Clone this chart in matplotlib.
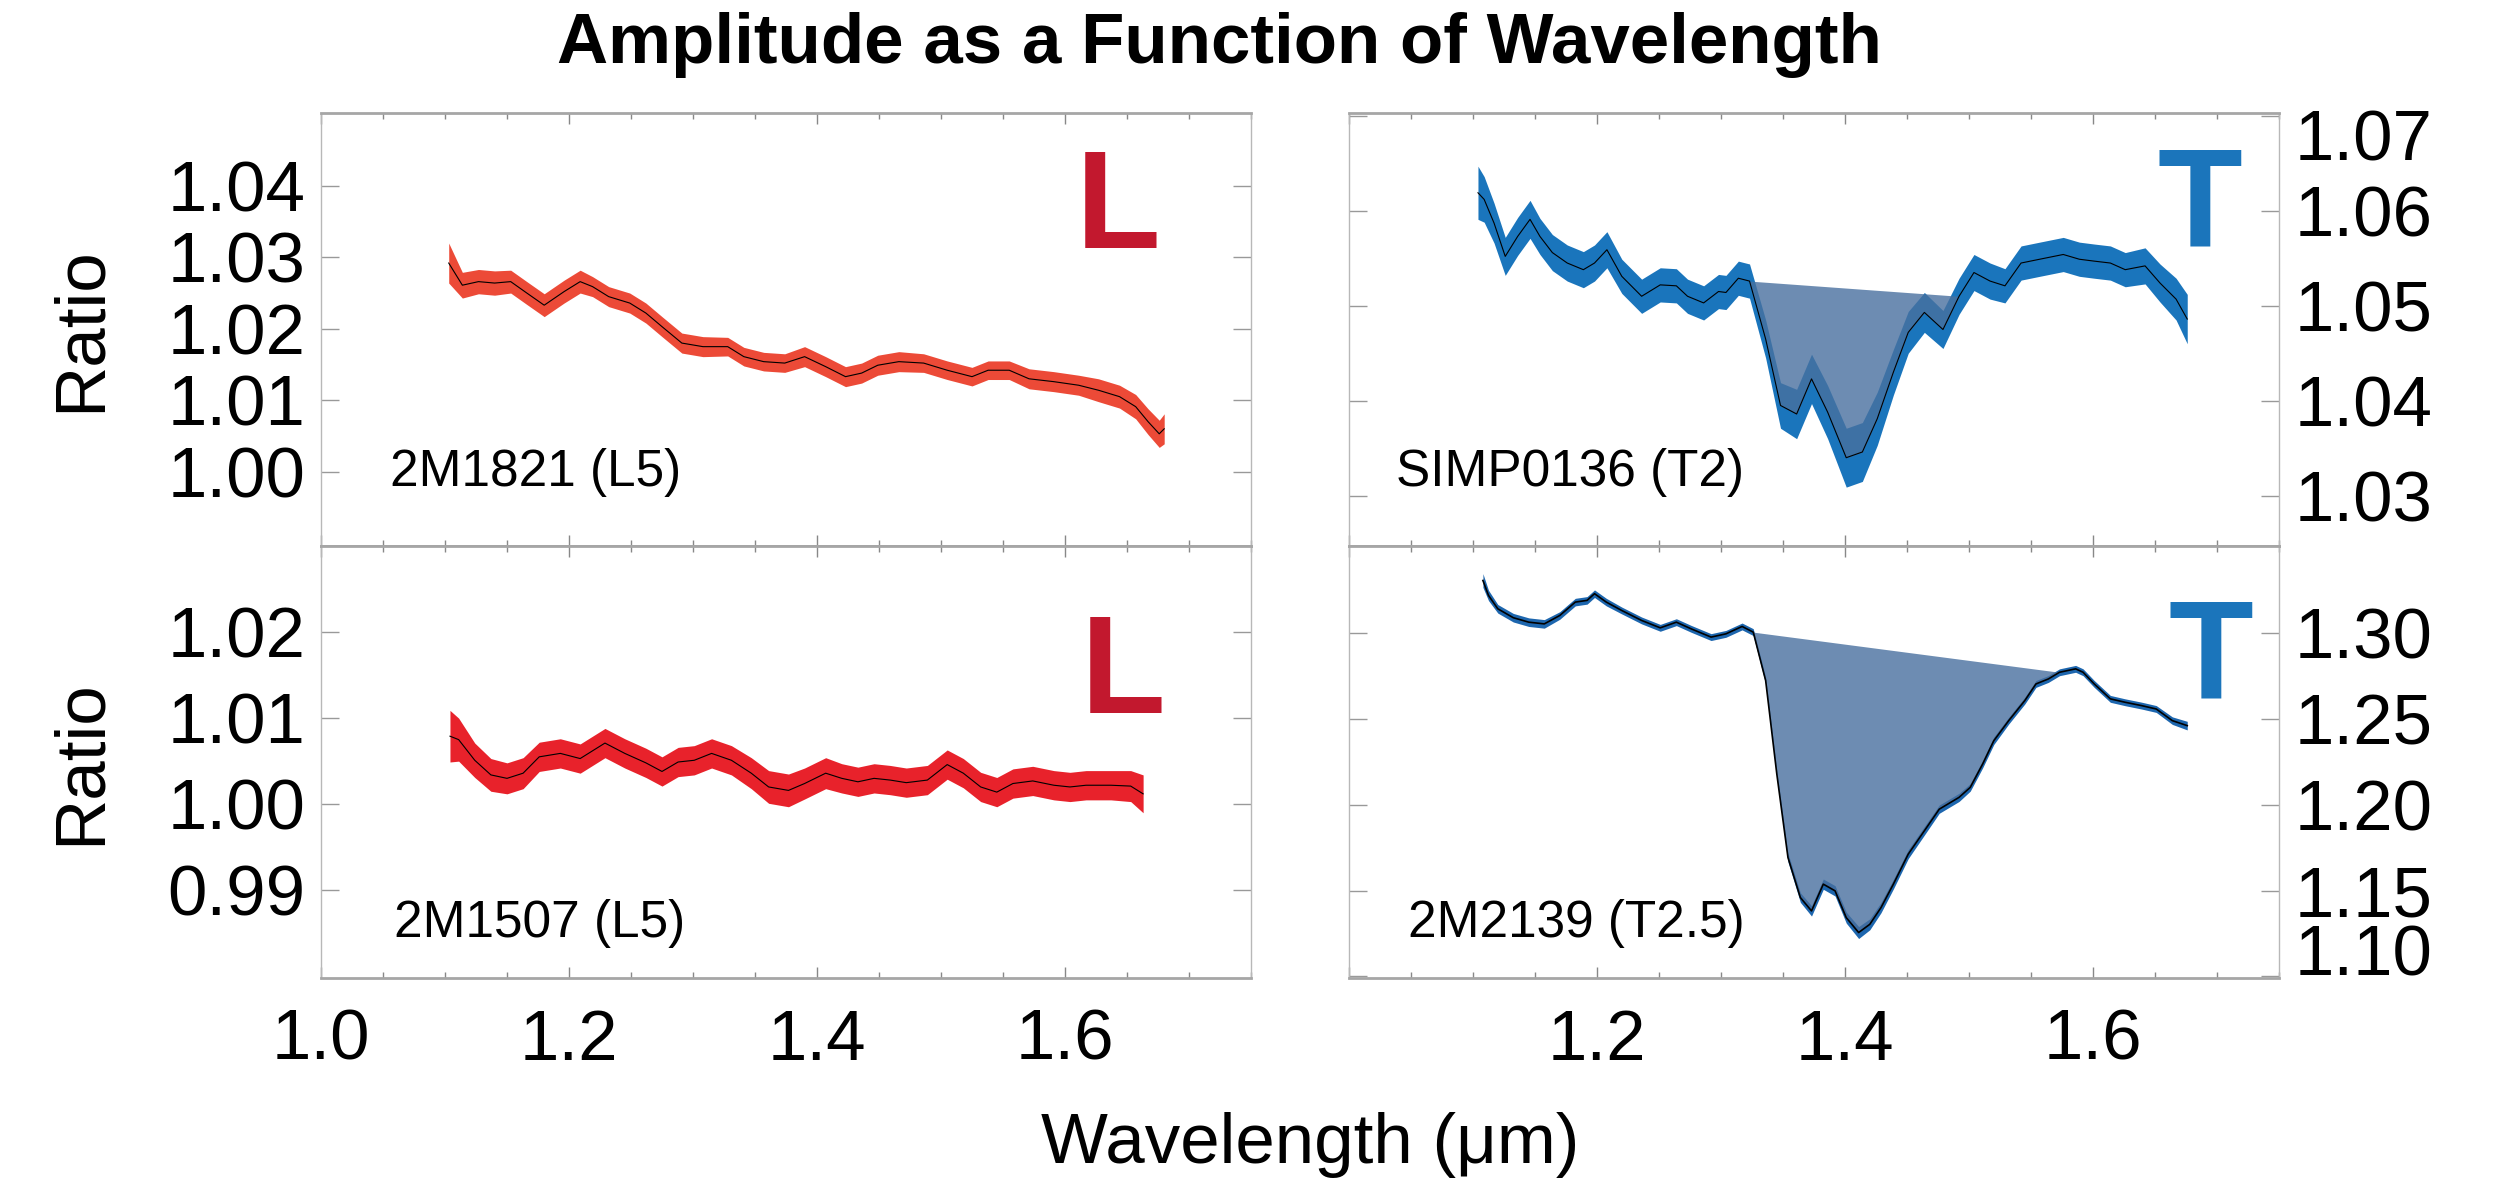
import numpy as np
import matplotlib
matplotlib.use('Agg')
import matplotlib.pyplot as plt
from matplotlib.ticker import MultipleLocator, FixedLocator
from matplotlib.transforms import ScaledTranslation

plt.rcParams['font.family'] = ['Liberation Sans', 'DejaVu Sans']

# 2M1821 (L5) - top left
tl_x = [1.103, 1.114, 1.127, 1.140, 1.153, 1.166, 1.180, 1.196, 1.209, 1.219,
        1.232, 1.249, 1.262, 1.275, 1.291, 1.308, 1.328, 1.341, 1.357, 1.374,
        1.390, 1.407, 1.423, 1.436, 1.449, 1.466, 1.486, 1.505, 1.525, 1.538,
        1.555, 1.571, 1.591, 1.611, 1.627, 1.644, 1.657, 1.667, 1.676, 1.680]
tl_y = [1.0292, 1.0261, 1.0266, 1.0264, 1.0266, 1.0250, 1.0233, 1.0252, 1.0266, 1.0259,
        1.0245, 1.0236, 1.0222, 1.0203, 1.0180, 1.0175, 1.0175, 1.0161, 1.0154, 1.0152,
        1.0161, 1.0147, 1.0133, 1.0138, 1.0149, 1.0154, 1.0152, 1.0142, 1.0133, 1.0142,
        1.0142, 1.0130, 1.0126, 1.0121, 1.0114, 1.0105, 1.0091, 1.0070, 1.0053, 1.0060]
tl_err = [0.0028, 0.0018, 0.0017, 0.0017, 0.0016, 0.0016, 0.0016, 0.0016, 0.0016, 0.0014,
          0.0014, 0.0014, 0.0014, 0.0014, 0.0014, 0.0014, 0.0013, 0.0013, 0.0013, 0.0013,
          0.0014, 0.0014, 0.0014, 0.0014, 0.0014, 0.0014, 0.0013, 0.0013, 0.0013, 0.0013,
          0.0013, 0.0014, 0.0014, 0.0014, 0.0016, 0.0016, 0.0017, 0.0018, 0.0019, 0.0021]

# 2M1507 (L5) - bottom left
bl_x = [1.104, 1.111, 1.124, 1.137, 1.150, 1.163, 1.176, 1.193, 1.209, 1.229,
        1.245, 1.262, 1.275, 1.288, 1.301, 1.315, 1.331, 1.347, 1.361, 1.377,
        1.390, 1.407, 1.420, 1.433, 1.446, 1.459, 1.472, 1.489, 1.505, 1.518,
        1.532, 1.545, 1.558, 1.574, 1.591, 1.604, 1.617, 1.637, 1.653, 1.663]
bl_y = [1.0079, 1.0075, 1.0051, 1.0034, 1.0030, 1.0036, 1.0055, 1.0059, 1.0053, 1.0071,
        1.0059, 1.0048, 1.0038, 1.0049, 1.0051, 1.0059, 1.0051, 1.0036, 1.0020, 1.0016,
        1.0024, 1.0036, 1.0030, 1.0026, 1.0030, 1.0028, 1.0025, 1.0028, 1.0046, 1.0036,
        1.0020, 1.0014, 1.0024, 1.0027, 1.0022, 1.0020, 1.0022, 1.0022, 1.0021, 1.0012]
bl_err = [0.0030, 0.0025, 0.0020, 0.0019, 0.0018, 0.0018, 0.0017, 0.0017, 0.0017, 0.0017,
          0.0017, 0.0017, 0.0017, 0.0017, 0.0017, 0.0017, 0.0017, 0.0018, 0.0019, 0.0019,
          0.0018, 0.0018, 0.0017, 0.0017, 0.0017, 0.0017, 0.0017, 0.0017, 0.0017, 0.0017,
          0.0017, 0.0017, 0.0017, 0.0017, 0.0017, 0.0017, 0.0017, 0.0017, 0.0018, 0.0022]

# SIMP0136 (T2) - top right
tr_x = [1.104, 1.109, 1.117, 1.126, 1.136, 1.146, 1.154, 1.164, 1.176, 1.189,
        1.198, 1.208, 1.220, 1.236, 1.251, 1.264, 1.273, 1.286, 1.298, 1.304,
        1.314, 1.323, 1.336, 1.348, 1.361, 1.373, 1.386, 1.401, 1.414, 1.426,
        1.439, 1.451, 1.464, 1.479, 1.492, 1.504, 1.517, 1.529, 1.542, 1.557,
        1.576, 1.589, 1.601, 1.614, 1.626, 1.642, 1.654, 1.667, 1.676]
tr_y = [1.0619, 1.0612, 1.0587, 1.0552, 1.0573, 1.0591, 1.0573, 1.0556, 1.0545, 1.0538,
        1.0545, 1.0559, 1.0531, 1.0510, 1.0522, 1.0521, 1.0510, 1.0503, 1.0515, 1.0514,
        1.0529, 1.0526, 1.0465, 1.0395, 1.0386, 1.0423, 1.0388, 1.0340, 1.0346, 1.0381,
        1.0430, 1.0472, 1.0493, 1.0475, 1.0510, 1.0535, 1.0526, 1.0521, 1.0545, 1.0549,
        1.0554, 1.0549, 1.0547, 1.0545, 1.0538, 1.0542, 1.0524, 1.0507, 1.0486]
tr_err = [0.0028, 0.0024, 0.0021, 0.0020, 0.0020, 0.0020, 0.0019, 0.0019, 0.0019, 0.0019,
          0.0019, 0.0019, 0.0018, 0.0018, 0.0018, 0.0018, 0.0018, 0.0018, 0.0018, 0.0018,
          0.0018, 0.0018, 0.0020, 0.0024, 0.0026, 0.0026, 0.0028, 0.0031, 0.0031, 0.0028,
          0.0024, 0.0022, 0.0021, 0.0020, 0.0019, 0.0019, 0.0019, 0.0018, 0.0018, 0.0018,
          0.0018, 0.0018, 0.0018, 0.0018, 0.0018, 0.0019, 0.0020, 0.0022, 0.0026]
tr_band = (1.323, 1.492)

# 2M2139 (T2.5) - bottom right
br_x = [1.108, 1.1125, 1.120, 1.1325, 1.145, 1.1575, 1.170, 1.1825, 1.192, 1.198,
        1.2075, 1.220, 1.236, 1.251, 1.264, 1.276, 1.292, 1.304, 1.317, 1.326,
        1.336, 1.345, 1.354, 1.364, 1.373, 1.3825, 1.392, 1.401, 1.411, 1.420,
        1.429, 1.439, 1.451, 1.464, 1.476, 1.492, 1.501, 1.511, 1.520, 1.532,
        1.545, 1.554, 1.564, 1.573, 1.586, 1.592, 1.601, 1.614, 1.626, 1.639,
        1.651, 1.664, 1.676]
br_y = [1.3307, 1.3220, 1.3142, 1.3090, 1.3064, 1.3054, 1.3103, 1.3181, 1.3191, 1.3230,
        1.3181, 1.3132, 1.3074, 1.3031, 1.3064, 1.3025, 1.2977, 1.2996, 1.3039, 1.3006,
        1.2724, 1.2179, 1.1692, 1.1459, 1.1381, 1.1537, 1.1498, 1.1342, 1.1255, 1.1303,
        1.1400, 1.1537, 1.1712, 1.1848, 1.1974, 1.2043, 1.2101, 1.2237, 1.2373, 1.2490,
        1.2607, 1.2704, 1.2733, 1.2772, 1.2792, 1.2772, 1.2704, 1.2617, 1.2597, 1.2578,
        1.2558, 1.2490, 1.2461]
br_err = [0.0040, 0.0030, 0.0025, 0.0025, 0.0025, 0.0025, 0.0022, 0.0022, 0.0022, 0.0022,
          0.0022, 0.0020, 0.0020, 0.0020, 0.0020, 0.0020, 0.0020, 0.0020, 0.0020, 0.0020,
          0.0020, 0.0022, 0.0025, 0.0028, 0.0030, 0.0030, 0.0030, 0.0032, 0.0035, 0.0032,
          0.0030, 0.0028, 0.0026, 0.0025, 0.0024, 0.0024, 0.0022, 0.0022, 0.0022, 0.0020,
          0.0020, 0.0020, 0.0020, 0.0020, 0.0020, 0.0020, 0.0020, 0.0020, 0.0020, 0.0020,
          0.0020, 0.0022, 0.0025]
br_band = (1.326, 1.573)

names = ['2M1821 (L5)', '2M1507 (L5)', 'SIMP0136 (T2)', '2M2139 (T2.5)']
x_ticks = [1.0, 1.2, 1.4, 1.6]
tl_yticks = [1.00, 1.01, 1.02, 1.03, 1.04]
bl_yticks = [0.99, 1.00, 1.01, 1.02]
tr_yticks = [1.03, 1.04, 1.05, 1.06, 1.07]
br_yticks = [1.10, 1.15, 1.20, 1.25, 1.30]

W, H = 2499, 1181
fig = plt.figure(figsize=(W / 100, H / 100), dpi=100)

def box(x0, y0, x1, y1):
    return [x0 / W, 1 - y1 / H, (x1 - x0) / W, (y1 - y0) / H]

ax_tl = fig.add_axes(box(321, 113, 1251, 546))
ax_bl = fig.add_axes(box(321, 546, 1251, 978))
ax_tr = fig.add_axes(box(1349, 113, 2279, 546))
ax_br = fig.add_axes(box(1349, 546, 2279, 978))

RED_L = '#C2182E'
BLUE_T = '#1B75BB'
SHADE = '#48709f'

def style(ax, yticks, ylim, right, bottom):
    ax.set_xlim(1.0, 1.75)
    ax.set_ylim(*ylim)
    for s in ['top', 'bottom']:
        ax.spines[s].set_color('#a6a6a6')
        ax.spines[s].set_linewidth(2.0)
    for s in ['left', 'right']:
        ax.spines[s].set_color('#b8b8b8')
        ax.spines[s].set_linewidth(1.0)
    ax.xaxis.set_major_locator(FixedLocator(x_ticks))
    ax.xaxis.set_minor_locator(MultipleLocator(0.05))
    ax.set_yticks(yticks)
    ax.set_yticklabels(['%.2f' % v for v in yticks])
    ax.tick_params(axis='x', which='both', direction='in', top=True, bottom=True,
                   color='#888888', labelbottom=bottom, labelsize=51, pad=22)
    ax.tick_params(axis='x', which='major', length=8, width=1)
    ax.tick_params(axis='x', which='minor', length=4, width=1)
    ax.tick_params(axis='y', which='major', direction='in', left=True, right=True,
                   length=13, width=1, color='#999999', labelsize=51, pad=11,
                   labelleft=not right, labelright=right)

def draw(ax, x, y, err, band_color, lw=0.8):
    x = np.array(x)
    y = np.array(y)
    e = np.array(err)
    ax.fill_between(x, y - e, y + e, color=band_color, lw=0)
    ax.plot(x, y, color='black', lw=lw)

def shade(ax, x, y, rng):
    x = np.array(x)
    y = np.array(y)
    m = (x >= rng[0]) & (x <= rng[1])
    ends = [np.interp(rng[0], x, y), np.interp(rng[1], x, y)]
    base = np.interp(x[m], list(rng), ends)
    ax.fill_between(x[m], y[m], base, color=SHADE, alpha=0.8, lw=0)

style(ax_tl, tl_yticks, (0.9896, 1.0502), False, False)
style(ax_bl, bl_yticks, (0.9798, 1.0300), False, True)
style(ax_tr, tr_yticks, (1.0247, 1.0703), True, False)
style(ax_br, br_yticks, (1.0990, 1.3508), True, True)

draw(ax_tl, tl_x, tl_y, tl_err, '#EC4A37')
draw(ax_bl, bl_x, bl_y, bl_err, '#E8222B')
draw(ax_tr, tr_x, tr_y, tr_err, '#1A75BC')
shade(ax_tr, tr_x, tr_y, tr_band)
draw(ax_br, br_x, br_y, br_err, '#1D66AE', lw=1.2)
shade(ax_br, br_x, br_y, br_band)

# right panels: no 1.0 label on the x axis
ax_br.set_xticklabels(['', '1.2', '1.4', '1.6'])

for ax in [ax_tl, ax_bl]:
    ax.set_ylabel('Ratio', fontsize=51)
    ax.yaxis.set_label_coords(-0.222, 0.5)

# object names
ax_tl.text(0.074, 0.169, names[0], transform=ax_tl.transAxes, fontsize=37, va='center')
ax_bl.text(0.078, 0.127, names[1], transform=ax_bl.transAxes, fontsize=37, va='center')
ax_tr.text(0.050, 0.169, names[2], transform=ax_tr.transAxes, fontsize=37, va='center')
ax_br.text(0.063, 0.127, names[3], transform=ax_br.transAxes, fontsize=37, va='center')

# spectral type letters
ax_tl.text(0.857, 0.688, 'L', transform=ax_tl.transAxes, fontsize=100,
           fontweight='bold', color=RED_L, ha='center', va='baseline')
ax_bl.text(0.862, 0.613, 'L', transform=ax_bl.transAxes, fontsize=100,
           fontweight='bold', color=RED_L, ha='center', va='baseline')
ax_tr.text(0.915, 0.693, 'T', transform=ax_tr.transAxes, fontsize=100,
           fontweight='bold', color=BLUE_T, ha='center', va='baseline')
ax_br.text(0.927, 0.650, 'T', transform=ax_br.transAxes, fontsize=100,
           fontweight='bold', color=BLUE_T, ha='center', va='baseline')

# labels at the axis ends are nudged inside, as in the original
lab = ax_tr.get_yticklabels()[-1]
lab.set_transform(lab.get_transform() + ScaledTranslation(0, -0.19, fig.dpi_scale_trans))
lab = ax_br.get_yticklabels()[0]
lab.set_transform(lab.get_transform() + ScaledTranslation(0, 0.26, fig.dpi_scale_trans))

fig.text(1219 / W, 1 - 45 / H, 'Amplitude as a Function of Wavelength',
         fontsize=51, fontweight='bold', ha='center', va='center')
fig.text(1310 / W, 1 - 1145 / H, 'Wavelength (\u03bcm)', fontsize=51,
         ha='center', va='center')

fig.savefig('out.png', dpi=100)
